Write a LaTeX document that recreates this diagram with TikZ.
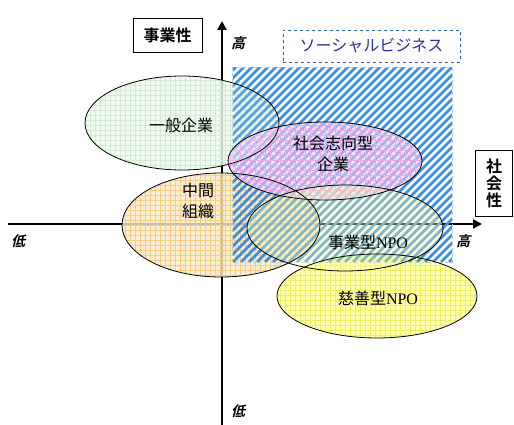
\documentclass[tikz,border=0pt]{standalone}
\usepackage{fontspec}
\newfontfamily\cjk{Noto Sans CJK JP}
\newfontfamily\cjkb{Noto Sans CJK JP Bold}
\newfontfamily\cjksl[FakeSlant=0.25]{Noto Sans CJK JP Bold}
\newfontfamily\latser{Liberation Serif}
\usetikzlibrary{patterns.meta,arrows.meta}
\definecolor{hatchblue}{HTML}{3A8EDF}
\definecolor{sbtext}{HTML}{2B2FA0}
\definecolor{gfill}{HTML}{EAF8EA}\definecolor{ggrid}{HTML}{C9E9C9}
\definecolor{pfill}{HTML}{F5CDF5}\definecolor{pgrid}{HTML}{E9A6E9}
\definecolor{ofill}{HTML}{FDE9CC}\definecolor{ogrid}{HTML}{F3CD80}
\definecolor{yfill}{HTML}{FFFFA8}\definecolor{ygrid}{HTML}{EFEF60}
\tikzset{
  axis/.style={line width=2.6pt,-{Triangle[length=9pt,width=9pt]}},
  outline/.style={draw=black,line width=0.8pt},
  stripe/.style={hatchblue,line width=2.6pt},
  lbl/.style={font=\cjk\fontsize{16}{21}\selectfont,align=center,inner sep=0pt},
  lowhigh/.style={font=\cjksl\fontsize{14}{16}\selectfont,inner sep=0pt},
  titlebox/.style={draw=black,line width=0.8pt,fill=white,font=\cjkb\fontsize{16}{20}\selectfont,inner sep=0pt,align=center},
}
\begin{document}
\begin{tikzpicture}[x=1pt,y=-1pt]
\useasboundingbox (0,0) rectangle (514,425);
% axes
\coordinate (vb) at (222,425); \coordinate (vt) at (222,21);
\coordinate (hl) at (8,224); \coordinate (hr) at (482,224);
\draw[axis] (vb) -- (vt);
\draw[axis] (hl) -- (hr);
% ellipse fills
\fill[gfill,fill opacity=0.8] (182,123) ellipse [x radius=97,y radius=47];
\fill[pattern={Hatch[angle=0,distance=5pt,line width=0.5pt]},pattern color=ggrid] (182,123) ellipse [x radius=97,y radius=47];
\fill[ofill,fill opacity=0.8] (221,225) ellipse [x radius=99,y radius=52];
\fill[pattern={Hatch[angle=0,distance=5pt,line width=0.6pt]},pattern color=ogrid] (221,225) ellipse [x radius=99,y radius=52];
\fill[yfill,fill opacity=0.9] (377,296) ellipse [x radius=100,y radius=42];
\fill[pattern={Hatch[angle=0,distance=5pt,line width=0.6pt]},pattern color=ygrid] (377,296) ellipse [x radius=100,y radius=42];
% hatched social business region
\node[minimum width=219pt,minimum height=194pt,inner sep=0pt] (sb) at (342.5,165) {};
\begin{scope}
  \clip (sb.south west) rectangle (sb.north east);
  \foreach \i in {-26,...,30} {
    \draw[stripe] (233+\i*8,262) -- ++(200,-200);
  }
\end{scope}
\draw[hatchblue!45,dashed,line width=0.8pt] (sb.south west) rectangle (sb.north east);
\fill[pfill,fill opacity=0.55] (325,161) ellipse [x radius=97,y radius=39];
\fill[pattern={Hatch[angle=0,distance=5pt,line width=0.5pt]},pattern color=pgrid,fill opacity=0.6] (325,161) ellipse [x radius=97,y radius=39];
\fill[yfill,fill opacity=0.35] (345,228) ellipse [x radius=98,y radius=43];
\fill[white,fill opacity=0.15] (182,123) ellipse [x radius=97,y radius=47];
% outlines
\draw[outline] (182,123) ellipse [x radius=97,y radius=47];
\draw[outline] (325,161) ellipse [x radius=97,y radius=39];
\draw[outline] (221,225) ellipse [x radius=99,y radius=52];
\draw[outline] (345,228) ellipse [x radius=98,y radius=43];
\draw[outline] (377,296) ellipse [x radius=100,y radius=42];
% labels
\node[lbl] (ippan) at (181,125) {一般企業};
\node[lbl] (shakai) at (333,154) {社会志向型\\企業};
\node[lbl] (chukan) at (198,201) {中間\\組織};
\node[lbl] (jigyo) at (368,242) {事業型{\latser NPO}};
\node[lbl] (jizen) at (378,298) {慈善型{\latser NPO}};
% titles
\node[titlebox,minimum width=69pt,minimum height=34pt] (biz) at (167.5,35) {事業性};
\node[titlebox,minimum width=37pt,minimum height=66pt] (soc) at (494,183) {社\\[-3pt]会\\[-3pt]性};
\node[draw=hatchblue!70!black,dashed,line width=0.8pt,minimum width=177pt,minimum height=32pt,inner sep=0pt,
  text=sbtext,font=\cjk\fontsize{16}{20}\selectfont] (sbt) at (371.5,46) {ソーシャルビジネス};
% low / high
\node[lowhigh] (hi1) at (238,43) {高};
\node[lowhigh] (hi2) at (463,241) {高};
\node[lowhigh] (lo1) at (18,241) {低};
\node[lowhigh] (lo2) at (238,411) {低};
\end{tikzpicture}
\end{document}
